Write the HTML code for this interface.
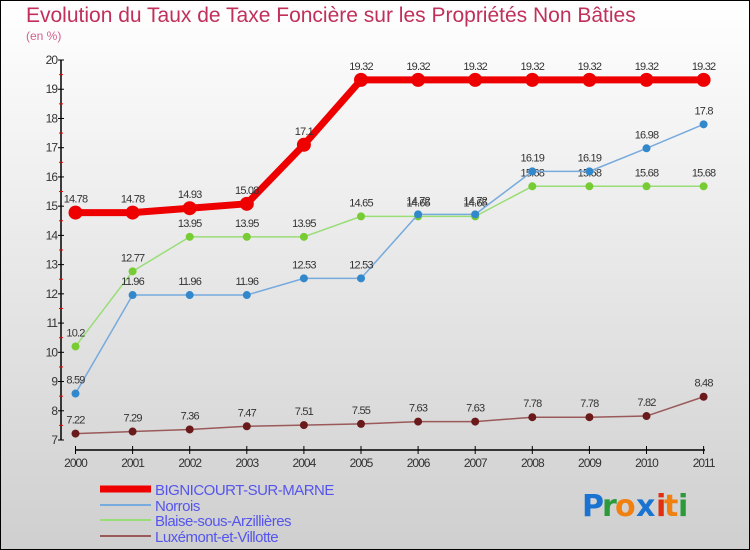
<!DOCTYPE html>
<html><head><meta charset="utf-8"><style>
body{margin:0;width:750px;height:550px;overflow:hidden;}
svg{display:block;font-family:"Liberation Sans",sans-serif;}
</style></head><body>
<svg id="c" width="750" height="550">
<defs><linearGradient id="bg" x1="0" y1="0" x2="0" y2="1"><stop offset="0" stop-color="#ffffff"/><stop offset="1" stop-color="#cfcfcf"/></linearGradient></defs>
<rect x="0.5" y="0.5" width="749" height="549" fill="url(#bg)" stroke="#000"/>
<text x="26" y="22" font-size="21" fill="#c0305a">Evolution du Taux de Taxe Foncière sur les Propriétés Non Bâties</text>
<text x="26" y="40" font-size="12" fill="#d0608a">(en %)</text>
<g id="axes"></g><g id="series"></g><g id="legend"></g>
<g font-size="30" font-family="'DejaVu Sans',sans-serif" font-weight="bold">
<text x="582" y="516" fill="#1a73d0">P</text><text x="602" y="516" fill="#2a9a3a">r</text><text x="615" y="516" fill="#f08010">o</text><text x="636" y="516" fill="#1a73d0">x</text><text x="656" y="516" fill="#e03010">i</text><text x="664" y="516" fill="#f08010">t</text><text x="678" y="516" fill="#2a9a3a">i</text>
</g>
</svg>
<script>
const years=[2000,2001,2002,2003,2004,2005,2006,2007,2008,2009,2010,2011];
const yTicks=[7,8,9,10,11,12,13,14,15,16,17,18,19,20];
const bignicourt=[14.78,14.78,14.93,15.08,17.1,19.32,19.32,19.32,19.32,19.32,19.32,19.32];
const norrois=[8.59,11.96,11.96,11.96,12.53,12.53,14.72,14.72,16.19,16.19,16.98,17.8];
const blaise=[10.2,12.77,13.95,13.95,13.95,14.65,14.65,14.65,15.68,15.68,15.68,15.68];
const luxemont=[7.22,7.29,7.36,7.47,7.51,7.55,7.63,7.63,7.78,7.78,7.82,8.48];
const names=["BIGNICOURT-SUR-MARNE","Norrois","Blaise-sous-Arzillières","Luxémont-et-Villotte"];
const NS="http://www.w3.org/2000/svg";
const xs=i=>75.5+i*57.1;
const ys=v=>440-(v-7)*29.23;
function mk(p,t,a){const e=document.createElementNS(NS,t);for(const k in a)e.setAttribute(k,a[k]);p.appendChild(e);return e;}
const ax=document.getElementById('axes');
let l=mk(ax,'line',{x1:61,y1:ys(20),x2:61,y2:ys(7),stroke:'#000','stroke-width':1.5});


yTicks.forEach(v=>{
 mk(ax,'line',{x1:58,x2:64,y1:ys(v),y2:ys(v),stroke:'#000'});
 if(v<20)mk(ax,'line',{x1:59,x2:63,y1:ys(v+0.5),y2:ys(v+0.5),stroke:'#e00'});
 const t=mk(ax,'text',{x:57,y:ys(v)+4,'text-anchor':'end','font-size':12,fill:'#333','letter-spacing':'-1'});
 t.textContent=v;
 
 
});
l=mk(ax,'line',{x1:75,y1:450,x2:705,y2:450,stroke:'#000','stroke-width':1.5});


years.forEach((y,i)=>{
 mk(ax,'line',{x1:xs(i),x2:xs(i),y1:446,y2:454,stroke:'#000'});
 const t=mk(ax,'text',{x:xs(i),y:467,'text-anchor':'middle','font-size':12,fill:'#333','letter-spacing':'-1'});
 t.textContent=y;
 
 
});
const sg=document.getElementById('series');
function series(d,color,w,mcol,r,name,noMark){
 const g=mk(sg,'g',{});
 
 
 mk(g,'polyline',{points:d.map((v,i)=>xs(i)+','+ys(v)).join(' '),fill:'none',stroke:color,'stroke-width':w,'stroke-linejoin':'round'});
 d.forEach((v,i)=>{
  const c=mk(g,'circle',{cx:xs(i),cy:ys(v),r:r,fill:mcol});
  
  
  const t=mk(g,'text',{x:xs(i),y:ys(v)-10,'text-anchor':'middle','font-size':11,fill:'#333','letter-spacing':'-0.8'});
  t.textContent=v;
  
  
 });
}
series(luxemont,'#9a5a5a',1.5,'#6a1a1a',4,'series-luxemont');
series(blaise,'#99dd77',1.5,'#77cc33',4,'series-blaise');
series(norrois,'#77aadd',1.5,'#3388cc',4,'series-norrois');
series(bignicourt,'#ee0000',7,'#ee0000',7,'series-bignicourt');
const lg=document.getElementById('legend');
const lc=['#ee0000','#77aadd','#99dd77','#9a5a5a'],lw=[7,2,2,2],ly=[493,509,524,540];
names.forEach((n,i)=>{
 const g=mk(lg,'g',{});
 
 
 mk(g,'line',{x1:100,x2:151,y1:ly[i]-4,y2:ly[i]-4,stroke:lc[i],'stroke-width':lw[i]});
 const t=mk(g,'text',{x:155,y:ly[i]+2,'font-size':15,fill:'#5555ee','letter-spacing':'-0.5'});
 t.textContent=n;
});
</script>
</body></html>
